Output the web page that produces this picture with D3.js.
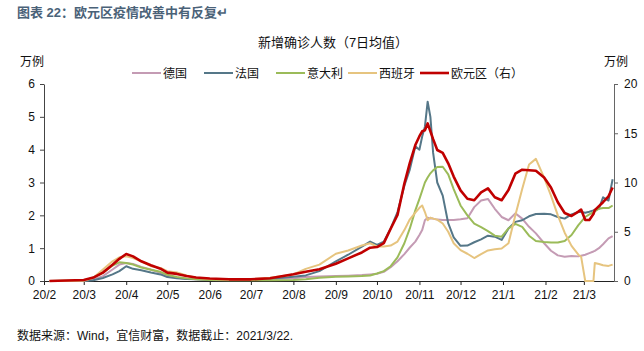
<!DOCTYPE html>
<html>
<head>
<meta charset="utf-8">
<script src="https://cdn.jsdelivr.net/npm/d3@7"></script>
<style>
  body { margin: 0; background: #fff; }
  svg { display: block; font-family: "Liberation Sans", "Noto Sans CJK SC", sans-serif; }
</style>
</head>
<body>
<figure id="chart" style="margin:0"></figure>
<script>
// dates of the readings (7-day averages)
const dates = [
  "2020-02-05","2020-03-01","2020-03-08","2020-03-15","2020-03-22","2020-03-27","2020-04-01","2020-04-06",
  "2020-04-12","2020-04-19","2020-04-26","2020-05-01","2020-05-08","2020-05-15","2020-05-22","2020-06-01",
  "2020-06-15","2020-07-01","2020-07-15","2020-08-01","2020-08-10","2020-08-20","2020-09-01","2020-09-10",
  "2020-09-20","2020-09-26","2020-10-01","2020-10-06","2020-10-11","2020-10-16","2020-10-21","2020-10-25",
  "2020-10-29","2020-11-01","2020-11-03","2020-11-05","2020-11-07","2020-11-09","2020-11-11","2020-11-14",
  "2020-11-18","2020-11-22","2020-11-26","2020-12-01","2020-12-06","2020-12-11","2020-12-16","2020-12-21",
  "2020-12-26","2020-12-31","2021-01-05","2021-01-10","2021-01-15","2021-01-20","2021-01-25","2021-01-31",
  "2021-02-05","2021-02-10","2021-02-15","2021-02-20","2021-02-25","2021-02-27","2021-03-02","2021-03-05",
  "2021-03-08","2021-03-09","2021-03-12","2021-03-15","2021-03-19","2021-03-22"
];

// left axis, 万例
const germany = [
  0, 0, 0.05, 0.15, 0.35, 0.5, 0.55, 0.52, 0.43, 0.35, 0.25, 0.16, 0.1, 0.07, 0.05, 0.04,
  0.03, 0.04, 0.05, 0.08, 0.12, 0.14, 0.15, 0.16, 0.18, 0.2, 0.22, 0.28, 0.42, 0.6, 0.82, 1.02,
  1.2, 1.4, 1.55, 1.85, 1.93, 1.9, 1.9, 1.87, 1.86, 1.86, 1.86, 1.88, 1.91, 2.25, 2.45, 2.5,
  2.2, 1.95, 1.85, 2.06, 1.9, 1.65, 1.45, 1.15, 0.92, 0.78, 0.74, 0.76, 0.75, 0.77, 0.8, 0.85,
  0.9, 0.92, 1.0, 1.12, 1.3, 1.37
];
const france = [
  0, 0, 0.02, 0.09, 0.2, 0.3, 0.45, 0.37, 0.33, 0.26, 0.2, 0.12, 0.08, 0.06, 0.05, 0.03,
  0.03, 0.04, 0.07, 0.13, 0.17, 0.3, 0.6, 0.8, 1.05, 1.2, 1.1, 1.2, 1.6, 2.1, 2.9, 3.4,
  4.1, 4.0, 4.4, 4.7, 5.46, 5.0, 3.9, 3.0, 2.6, 1.76, 1.33, 1.07, 1.08, 1.18, 1.27, 1.38,
  1.35, 1.25, 1.6, 1.8, 1.85, 1.97, 2.04, 2.05, 2.03, 1.95, 1.9, 2.03, 2.1, 2.1, 2.08, 2.11,
  2.15, 2.17, 2.2, 2.55, 2.45, 3.1
];
const italy = [
  0, 0.02, 0.1, 0.25, 0.47, 0.57, 0.55, 0.5, 0.41, 0.34, 0.28, 0.19, 0.12, 0.08, 0.05, 0.03,
  0.02, 0.02, 0.02, 0.03, 0.05, 0.1, 0.13, 0.14, 0.15, 0.17, 0.23, 0.3, 0.45, 0.72, 1.15, 1.6,
  2.15, 2.5, 2.75, 3.0, 3.15, 3.28, 3.37, 3.47, 3.48, 3.25, 2.8, 2.3, 2.0, 1.75, 1.64, 1.52,
  1.38, 1.35, 1.6, 1.74, 1.65, 1.38, 1.22, 1.19, 1.17, 1.17, 1.22, 1.4, 1.7, 1.8, 1.95, 2.03,
  2.1, 2.12, 2.2, 2.22, 2.22, 2.3
];
const spain = [
  0, 0.01, 0.1, 0.35, 0.6, 0.72, 0.75, 0.7, 0.6, 0.45, 0.4, 0.3, 0.26, 0.17, 0.1, 0.06,
  0.04, 0.05, 0.1, 0.2, 0.37, 0.5, 0.83, 0.93, 1.08, 1.15, 1.05, 1.05, 1.08, 1.2, 1.55, 1.88,
  2.08, 2.23, 2.3, 2.1, 1.85, 1.93, 1.9, 1.87, 1.75, 1.5, 1.15, 0.94, 0.83, 0.7, 0.82, 0.93,
  0.97, 0.99, 1.15, 2.0, 2.8, 3.55, 3.72, 3.15, 2.6, 2.0, 1.47, 1.07, 0.8, 0.74, 0, 0,
  0, 0.55, 0.52, 0.48, 0.46, 0.5
];
// right axis, 万例
const euroArea = [
  0, 0.1, 0.35, 0.85, 1.65, 2.25, 2.74, 2.5, 2.0, 1.6, 1.25, 0.85, 0.72, 0.5, 0.35, 0.25,
  0.17, 0.17, 0.28, 0.68, 0.93, 1.2, 1.75, 2.3, 2.9, 3.38, 3.45, 3.85, 5.3, 6.7, 9.9, 12.0,
  13.8, 14.7, 15.2, 15.3, 16.0, 15.2, 14.4, 13.3, 13.0, 11.95, 10.6, 9.2, 8.35, 8.2, 9.0, 9.4,
  8.5, 8.2, 9.24, 10.9, 11.3, 11.25, 11.2, 10.5, 9.5, 8.0, 6.9, 6.6, 7.04, 7.25, 6.2, 6.2,
  6.8, 7.2, 7.6, 8.0, 8.6, 9.5
];

const seriesNames = ["德国", "法国", "意大利", "西班牙", "欧元区（右）"];
const seriesColors = ["#C49BB4", "#557788", "#9BBB59", "#E6C47F", "#C00000"];
const leftTicks = [0, 1, 2, 3, 4, 5, 6];
const rightTicks = [0, 5, 10, 15, 20];

const width = 644, height = 351;
const plot = { left: 44, right: 614, top: 84, bottom: 281 };

const parse = d3.timeParse("%Y-%m-%d");
const days = dates.map(parse);

const svg = d3.select("figure#chart")
  .append("svg")
  .attr("width", width)
  .attr("height", height);

const x = d3.scaleTime()
  .domain([parse("2020-02-01"), parse("2021-03-23")])
  .range([plot.left, plot.right]);
const yLeft = d3.scaleLinear().domain([0, 6]).range([plot.bottom, plot.top]);
const yRight = d3.scaleLinear().domain([0, 20]).range([plot.bottom, plot.top]);

// header + footer
svg.append("text")
  .attr("x", 17).attr("y", 17)
  .attr("font-size", 13).attr("font-weight", "bold")
  .attr("fill", "#4A6278")
  .text("图表 22：欧元区疫情改善中有反复↵");

svg.append("text")
  .attr("x", 17).attr("y", 340)
  .attr("font-size", 12).attr("fill", "#111")
  .text("数据来源：Wind，宜信财富，数据截止：2021/3/22.");

svg.append("text")
  .attr("x", 333).attr("y", 47)
  .attr("text-anchor", "middle")
  .attr("font-size", 13).attr("fill", "#111")
  .text("新增确诊人数（7日均值）");

svg.append("text").attr("x", 20).attr("y", 66)
  .attr("font-size", 12).attr("fill", "#111").text("万例");
svg.append("text").attr("x", 604).attr("y", 66)
  .attr("font-size", 12).attr("fill", "#111").text("万例");

// axes
const monthTicks = d3.timeMonth.range(parse("2020-02-01"), parse("2021-03-02"));
const xAxis = svg.append("g")
  .attr("transform", `translate(0, ${plot.bottom})`)
  .call(d3.axisBottom(x).tickValues(monthTicks).tickFormat(d3.timeFormat("%y/%-m")).tickSize(4).tickSizeOuter(0));
xAxis.select(".domain").attr("stroke", "#222");
xAxis.selectAll(".tick line").attr("stroke", "#222");
xAxis.selectAll("text").attr("font-size", 12).attr("fill", "#111").attr("dy", "0.95em");

const leftAxis = svg.append("g")
  .attr("transform", `translate(${plot.left}, 0)`)
  .call(d3.axisLeft(yLeft).tickValues(leftTicks).tickFormat(d3.format("d")).tickSize(4).tickSizeOuter(0));
leftAxis.selectAll(".domain, .tick line").attr("stroke", "#444");
leftAxis.selectAll("text").attr("font-size", 12).attr("fill", "#111").attr("x", -9);

const rightAxis = svg.append("g")
  .attr("transform", `translate(${plot.right}, 0)`)
  .call(d3.axisRight(yRight).tickValues(rightTicks).tickFormat(d3.format("d")).tickSize(4).tickSizeOuter(0));
rightAxis.selectAll(".domain, .tick line").attr("stroke", "#666");
rightAxis.selectAll("text").attr("font-size", 12).attr("fill", "#111").attr("x", 10);

// lines
const allSeries = [germany, france, italy, spain, euroArea];
const lineLeft = d3.line().x((d, i) => x(days[i])).y(d => yLeft(d));
const lineRight = d3.line().x((d, i) => x(days[i])).y(d => yRight(d));

allSeries.forEach((values, k) => {
  svg.append("path")
    .datum(values)
    .attr("fill", "none")
    .attr("stroke", seriesColors[k])
    .attr("stroke-width", k === 4 ? 2.6 : 2)
    .attr("stroke-linejoin", "round")
    .attr("d", k === 4 ? lineRight : lineLeft);
});

// legend
const legend = svg.append("g").attr("transform", "translate(132, 73)");
seriesNames.forEach((name, k) => {
  const item = legend.append("g").attr("transform", `translate(${k * 72}, 0)`);
  item.append("line")
    .attr("x1", 0).attr("x2", 29)
    .attr("stroke", seriesColors[k]).attr("stroke-width", k === 4 ? 2.6 : 2);
  item.append("text")
    .attr("x", 31).attr("y", 4.5)
    .attr("font-size", 12).attr("fill", "#111")
    .text(name);
});
</script>
</body>
</html>
